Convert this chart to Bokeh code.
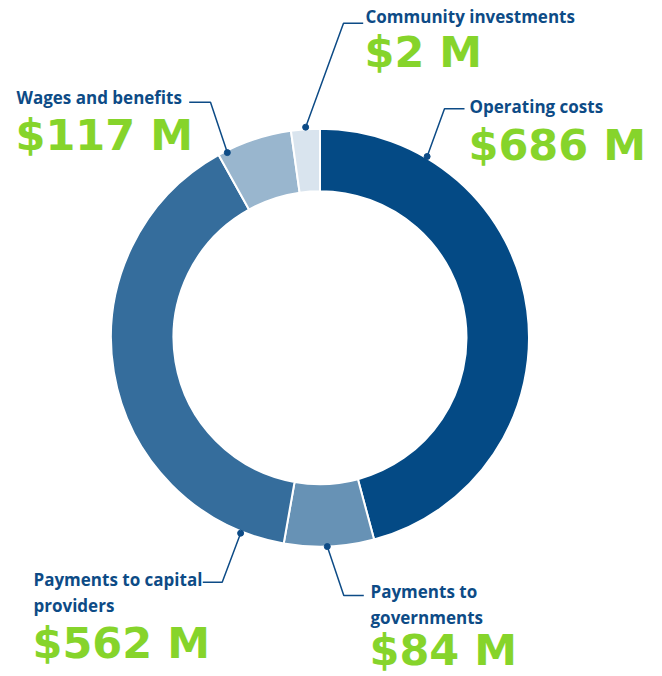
import math
from bokeh.plotting import figure
from bokeh.models import Range1d, ColumnDataSource
from bokeh.core.properties import value
from bokeh.embed import file_html
from bokeh.resources import INLINE

# ---- data ----
categories = ["Operating costs", "Payments to governments", "Payments to capital providers",
              "Wages and benefits", "Community investments"]
amounts_musd = [686, 84, 562, 117, 2]
value_labels = ["$686 M", "$84 M", "$562 M", "$117 M", "$2 M"]
# share of the ring each slice occupies in the picture (degrees of arc)
slice_shares = [165, 25, 141, 21, 8]
colors = ["#044a85", "#6792b5", "#356d9c", "#99b6ce", "#d9e4ee"]

# label text lines per category
label_lines = [["Operating costs"], ["Payments to", "governments"],
               ["Payments to capital", "providers"], ["Wages and benefits"],
               ["Community investments"]]

# ---- layout (page pixel coordinates) ----
W, H = 662, 676
def Y(py):
    return H - py

cx, cy = 319.5, Y(337.2)
r_in, r_out = 146.5, 209.0

p = figure(width=W, height=H, output_backend="svg", toolbar_location=None,
           x_range=Range1d(0, W), y_range=Range1d(0, H),
           min_border=0, outline_line_color=None)
p.axis.visible = False
p.grid.visible = False
p.background_fill_color = "white"
p.border_fill_color = "white"

total = float(sum(slice_shares))
starts, ends = [], []
acc = 0.0
for s in slice_shares:
    starts.append(math.pi / 2 - 2 * math.pi * acc / total)
    acc += s
    ends.append(math.pi / 2 - 2 * math.pi * acc / total)

src = ColumnDataSource(dict(x=[cx] * len(categories), y=[cy] * len(categories),
                            start=starts, end=ends, color=colors, cat=categories,
                            amt=amounts_musd))
p.annular_wedge(x="x", y="y", inner_radius=r_in, outer_radius=r_out,
                start_angle="start", end_angle="end", direction="clock",
                fill_color="color", line_color="white", line_width=2, source=src)

# leader lines: anchor angle on ring (deg clockwise from top), radius, elbow, end
anchor_deg = [30.6, 178.0, 202.1, 333.4, 356.1]
anchor_r = [210.5, 209.0, 211.0, 207.0, 211.0]
elbows = [(444, 108.3), (343.3, 595), (221.7, 581.7), (210, 101.7), (343, 22.7)]
line_ends = [(464, 108.3), (363.3, 595), (202.3, 581.7), (188.7, 101.7), (362.7, 22.7)]

blue = "#0d4b86"
green = "#86d42b"
dx, dy = [], []
for i in range(len(categories)):
    a = math.radians(anchor_deg[i])
    x0 = cx + anchor_r[i] * math.sin(a)
    y0 = cy + anchor_r[i] * math.cos(a)
    dx.append(x0); dy.append(y0)
    p.line([x0, elbows[i][0], line_ends[i][0]],
           [y0, Y(elbows[i][1]), Y(line_ends[i][1])], line_color=blue, line_width=1.5)
p.scatter(dx, dy, size=6, color=blue)

# texts (baseline positions in page px; correction for renderer baseline offset)
label_x = [469, 370, 33, 16, 365]
label_base = [[111.7], [597.3, 622.7], [585, 611], [103.3], [21.7]]
value_base = [160, 665, 658, 150, 66.7]
LBL_SIZE, VAL_SIZE = 17, 43
lbl_corr, val_corr = 0.36 * LBL_SIZE, 0.36 * VAL_SIZE

for i in range(len(categories)):
    for ln, b in zip(label_lines[i], label_base[i]):
        p.text(x=[label_x[i]], y=[Y(b - lbl_corr)], text=[ln], text_font=value("Open Sans"),
               text_font_style="bold", text_font_size=f"{LBL_SIZE}px", text_color=blue,
               text_baseline="alphabetic", text_align="left")
    p.text(x=[label_x[i] - 1], y=[Y(value_base[i] - val_corr)], text=[value_labels[i]],
           text_font=value("DejaVu Sans"), text_font_style="bold",
           text_font_size=f"{VAL_SIZE}px", text_color=green,
           text_baseline="alphabetic", text_align="left")

open("out.html", "w").write(file_html(p, INLINE))
